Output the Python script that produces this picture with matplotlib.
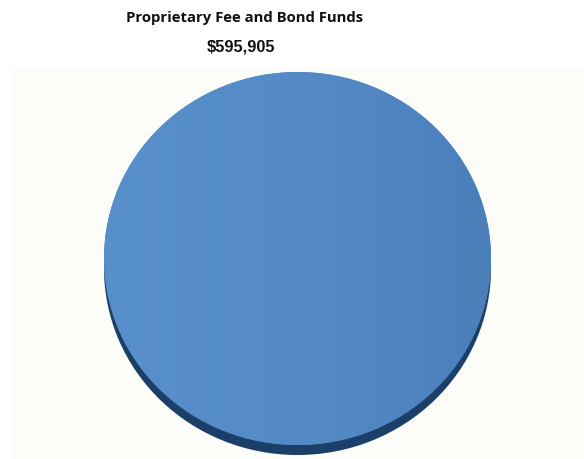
import matplotlib
matplotlib.use("Agg")
import matplotlib.pyplot as plt
import numpy as np
from matplotlib.colors import LinearSegmentedColormap

categories = ["Proprietary Fee and Bond Funds"]
values = [595905]
title_text = "Proprietary Fee and Bond Funds"
amount_text = "$595,905"

W, H = 584, 460
fig = plt.figure(figsize=(W / 100, H / 100), dpi=100)
fig.patch.set_facecolor("white")

# light background panel
ax_bg = fig.add_axes([12 / W, 0, 1 - 12 / W, (H - 69) / H], zorder=0)
ax_bg.set_facecolor("#fcfcf8")
ax_bg.set_xticks([]); ax_bg.set_yticks([])
for s in ax_bg.spines.values():
    s.set_visible(False)

left, width = 104 / W, 387 / W
bottom, height = (H - 446) / H, 373 / H

# shadow / extrusion
ax_s = fig.add_axes([left, bottom - 10 / H, width, height], zorder=1)
ax_s.pie(values, colors=["#1b3f68"], radius=1.0, startangle=90,
         wedgeprops=dict(edgecolor="none"))
ax_s.set_xlim(-1, 1); ax_s.set_ylim(-1, 1)
ax_s.set_aspect("auto"); ax_s.axis("off")

# top face
ax = fig.add_axes([left, bottom, width, height], zorder=2)
wedges, _ = ax.pie(values, colors=["#5088c3"], radius=1.0, startangle=90,
                   wedgeprops=dict(edgecolor="none"))
ax.set_xlim(-1, 1); ax.set_ylim(-1, 1)
ax.set_aspect("auto"); ax.axis("off")

cmap = LinearSegmentedColormap.from_list("g", ["#5890cc", "#548bc7", "#4a7fba"])
grad = np.linspace(0, 1, 256).reshape(1, -1)
im = ax.imshow(grad, cmap=cmap, extent=(-1, 1, -1, 1), aspect="auto", zorder=3)
im.set_clip_path(wedges[0])
ax.set_xlim(-1, 1); ax.set_ylim(-1, 1)

fig.text(245 / W, 1 - 18 / H, title_text, ha="center", va="center",
         fontsize=10.7, fontweight="bold", family=["Open Sans", "DejaVu Sans"],
         color="#111111", zorder=5)
fig.text(241 / W, 1 - 47 / H, amount_text, ha="center", va="center",
         fontsize=11.8, fontweight="bold",
         family=["Liberation Sans", "DejaVu Sans"], color="#111111", zorder=5)

fig.savefig("out.png", dpi=100, facecolor="white")
